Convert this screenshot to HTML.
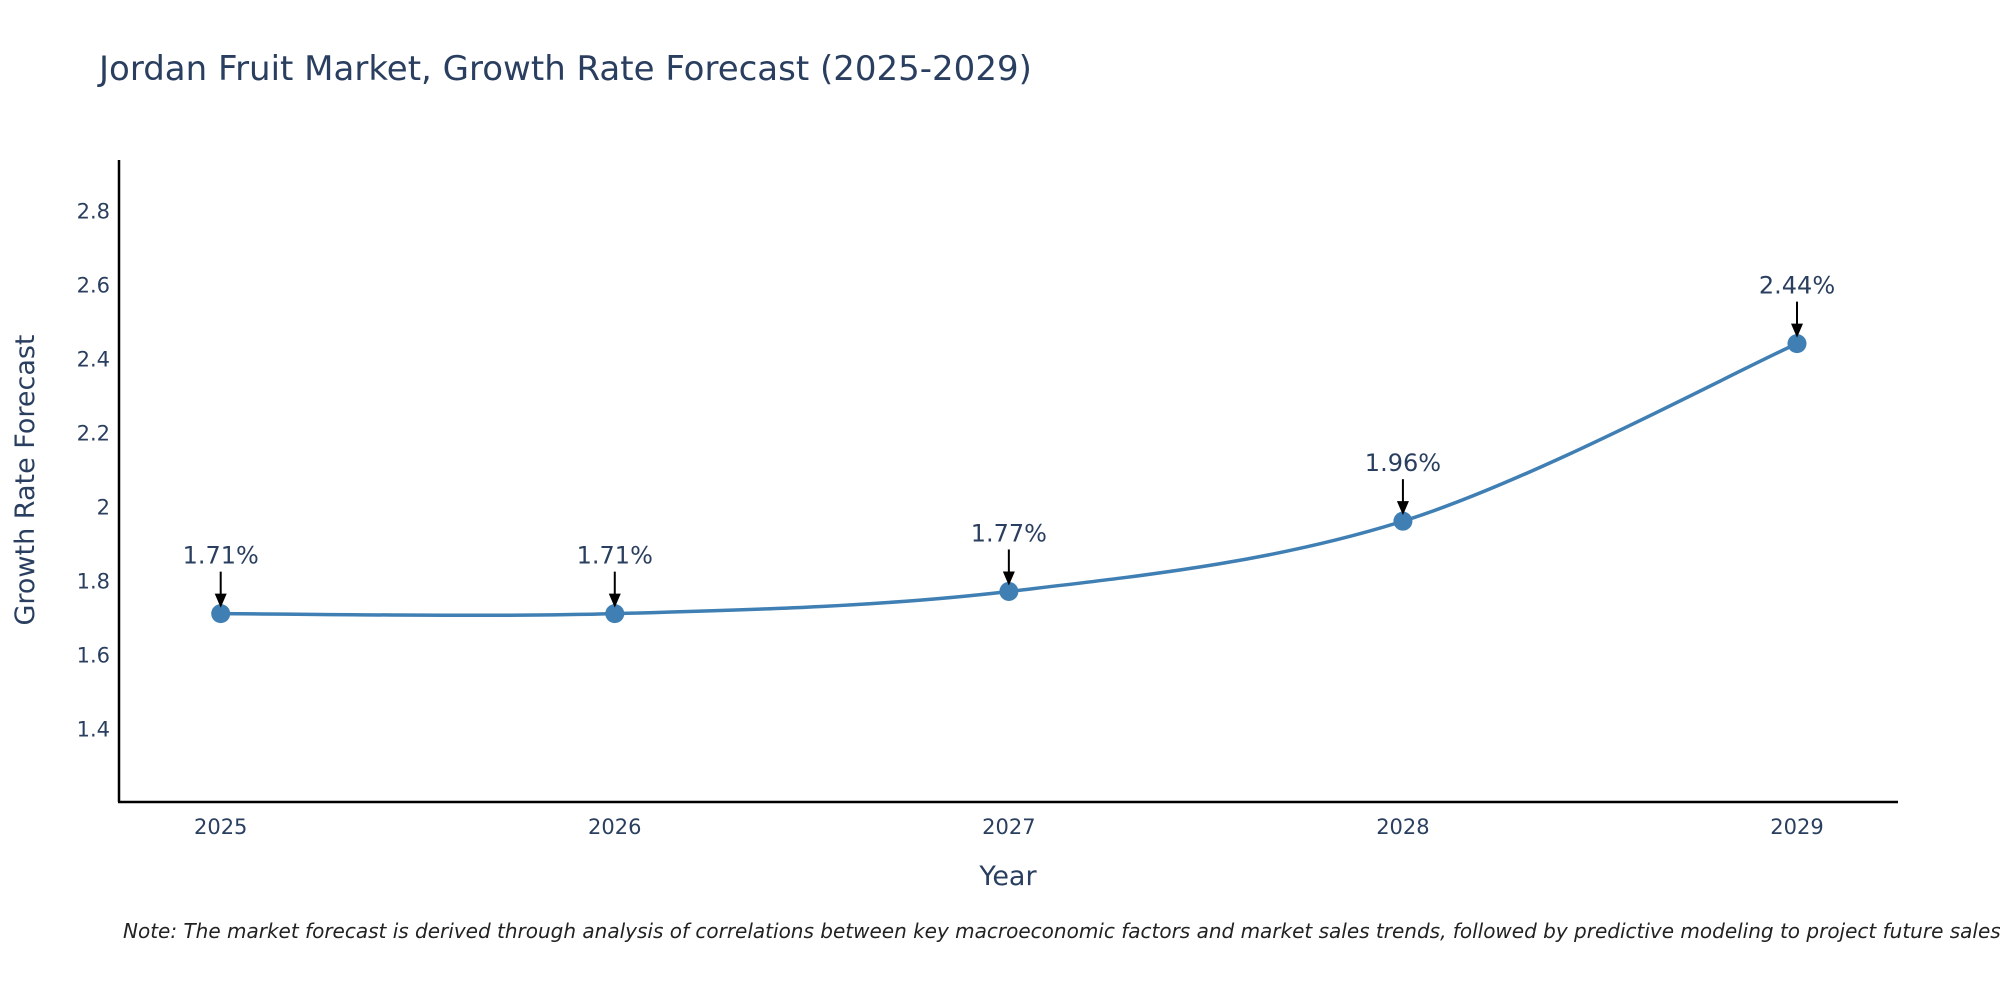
<!DOCTYPE html>
<html><head><meta charset="utf-8"><style>
html,body{margin:0;padding:0;background:#fff;}
svg{display:block;font-family:"DejaVu Sans","Liberation Sans",sans-serif;}
</style></head><body>
<svg id="chart" width="2000" height="1000" viewBox="0 0 2000 1000">
<text x="99" y="80" font-size="34" fill="#2a3f5f">Jordan Fruit Market, Growth Rate Forecast (2025-2029)</text>
<g id="yticks"></g>
<g id="xticks"></g>
<line x1="119" y1="160" x2="119" y2="802" stroke="#000" stroke-width="2.5"/>
<line x1="118" y1="802" x2="1898" y2="802" stroke="#000" stroke-width="2.5"/>
<path id="line" fill="none" stroke="#3f7fb3" stroke-width="3.5"/>
<g id="points"></g>
<g id="annots"></g>
<text x="1008" y="885" font-size="27" fill="#2a3f5f" text-anchor="middle">Year</text>
<text transform="translate(34,480) rotate(-90)" font-size="27" fill="#2a3f5f" text-anchor="middle">Growth Rate Forecast</text>
<text x="123" y="938" font-size="20" font-style="italic" fill="#222">Note: The market forecast is derived through analysis of correlations between key macroeconomic factors and market sales trends, followed by predictive modeling to project future sales.</text>
</svg>
<script>
const years = [2025, 2026, 2027, 2028, 2029];
const values = [1.71, 1.71, 1.77, 1.96, 2.44];
const labels = ["1.71%", "1.71%", "1.77%", "1.96%", "2.44%"];
const yTicks = [1.4, 1.6, 1.8, 2, 2.2, 2.4, 2.6, 2.8];
const yTickLabels = ["1.4", "1.6", "1.8", "2", "2.2", "2.4", "2.6", "2.8"];

const NS = "http://www.w3.org/2000/svg";
const xScale = v => 220.7 + (v - 2025) * (1797 - 220.7) / 4;
const yScale = v => 728.3 - (v - 1.4) * (728.3 - 210.5) / 1.4;
function mk(tag, attrs, parent){const e=document.createElementNS(NS,tag);for(const k in attrs)e.setAttribute(k,attrs[k]);parent.appendChild(e);return e;}

const yg=document.getElementById('yticks');
yTicks.forEach((t,i)=>{
  const e=mk('text',{x:110,y:yScale(t)+8,'font-size':21,fill:'#2a3f5f','text-anchor':'end'},yg);
  
  
  e.textContent=yTickLabels[i];
});
const xg=document.getElementById('xticks');
years.forEach(y=>{
  const e=mk('text',{x:xScale(y),y:834,'font-size':21,fill:'#2a3f5f','text-anchor':'middle'},xg);
  
  
  e.textContent=String(y);
});

const pts=years.map((y,i)=>[xScale(y),yScale(values[i])]);
let d=`M${pts[0][0]},${pts[0][1]}`;
const s=0.5/3;
for(let i=0;i<pts.length-1;i++){
  const p0=pts[Math.max(0,i-1)],p1=pts[i],p2=pts[i+1],p3=pts[Math.min(pts.length-1,i+2)];
  const c1=[p1[0]+(p2[0]-p0[0])*s,p1[1]+(p2[1]-p0[1])*s];
  const c2=[p2[0]-(p3[0]-p1[0])*s,p2[1]-(p3[1]-p1[1])*s];
  d+=` C${c1[0]},${c1[1]} ${c2[0]},${c2[1]} ${p2[0]},${p2[1]}`;
}
document.getElementById('line').setAttribute('d',d);

const pg=document.getElementById('points'), ag=document.getElementById('annots');
pts.forEach((p,i)=>{
  const c=mk('circle',{cx:p[0],cy:p[1],r:9.5,fill:'#3f7fb3'},pg);
  
  
  const l=mk('line',{x1:p[0],y1:p[1]-42,x2:p[0],y2:p[1]-18,stroke:'#000','stroke-width':2},ag);
  
  
  const h=mk('polygon',{points:`${p[0]-6},${p[1]-20} ${p[0]+6},${p[1]-20} ${p[0]},${p[1]-6}`,fill:'#000'},ag);
  
  
  const t=mk('text',{x:p[0],y:p[1]-50,'font-size':24,fill:'#2a3f5f','text-anchor':'middle'},ag);
  
  
  t.textContent=labels[i];
});
</script>
</body></html>
